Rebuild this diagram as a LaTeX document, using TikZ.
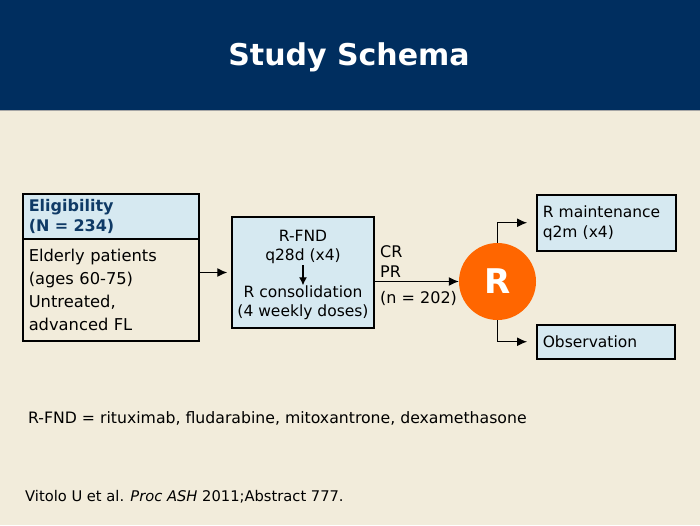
\documentclass[tikz,border=0pt]{standalone}
\usepackage{fontspec}
\setmainfont{DejaVu Sans}
\usetikzlibrary{positioning,arrows.meta}

\definecolor{headerblue}{HTML}{002E5F}
\definecolor{paper}{HTML}{F2ECDB}
\definecolor{paleblue}{HTML}{D6E9F1}
\definecolor{darkblue}{HTML}{0F3A66}
\definecolor{randorange}{HTML}{FF6600}

\begin{document}
\begin{tikzpicture}[x=1pt,y=-1pt,
  box/.style={draw=black, line width=1.5pt, fill=paleblue, inner sep=0pt},
  txt/.style={font=\fontsize{15.5}{19}\selectfont, inner sep=0pt},
  flow/.style={-{Latex[length=10pt,width=9pt]}, line width=1.3pt}]

% Background and header band
\useasboundingbox (0,0) rectangle (700,525);
\fill[paper] (0,0) rectangle (700,525);
\fill[headerblue] (0,0) rectangle (700,110);
\draw[gray!70, line width=1pt] (0,110.5) -- (700,110.5);
\node[text=white, font=\fontsize{30}{36}\bfseries\selectfont] (title) at (349,57) {Study Schema};

% Eligibility box
\node[box, anchor=north west, minimum width=176pt, minimum height=45pt,
      text width=164pt, align=left, text=darkblue,
      font=\fontsize{16}{20}\bfseries\selectfont] (elighead) at (22,193)
      {Eligibility\\(N = 234)};
\node[box, fill=none, anchor=north west, minimum width=176pt, minimum height=102pt,
      text width=164pt, align=left,
      font=\fontsize{16.3}{23}\selectfont] (eligbody) at (22,238)
      {Elderly patients\\(ages 60-75)\\Untreated,\\advanced FL};

% Induction and consolidation box
\node[box, minimum width=142pt, minimum height=111pt] (regimen) at (303,272.5) {};
\node[txt, align=center] (fnd) at (303,246.5) {R-FND\\q28d (x4)};
\node[txt, align=center] (consol) at (303,302.5) {R consolidation\\(4 weekly doses)};
\draw[-{Latex[length=8pt,width=8pt]}, line width=1.2pt] (fnd.south) ++(0,2) coordinate (fndfoot)
      (fndfoot) -- (consol.north);

% Randomisation
\node[circle, fill=randorange, minimum size=77pt, inner sep=0pt, text=white,
      font=\fontsize{34}{40}\bfseries\selectfont] (rand) at (497.5,281.5) {R};

% Arms
\node[box, anchor=north west, minimum width=139pt, minimum height=56pt,
      text width=127pt, align=left, inner xsep=6pt,
      font=\fontsize{15.5}{20}\selectfont] (maint) at (536,194)
      {R maintenance\\q2m (x4)};
\node[box, anchor=north west, minimum width=138pt, minimum height=34pt,
      text width=126pt, align=left, inner xsep=6pt,
      font=\fontsize{15.5}{20}\selectfont] (obs) at (536,324)
      {Observation};

% Response labels
\node[txt, anchor=west, font=\fontsize{16}{19}\selectfont] (cr) at (380,252) {CR};
\node[txt, anchor=west, font=\fontsize{16}{19}\selectfont] (pr) at (380,272) {PR};
\node[txt, anchor=west, font=\fontsize{16}{19}\selectfont] (nresp) at (380,298) {(n = 202)};

% Connectors
\draw[flow, shorten >=4pt] (eligbody.east |- regimen.west) -- (regimen.west);
\draw[flow] (regimen.east |- rand.west) -- (rand.west);
\draw[flow, line width=1pt, shorten >=9pt] (rand.north) |- (maint.west);
\draw[flow, line width=1pt, shorten >=9pt] (rand.south) |- (obs.west);

% Footnotes
\node[txt, anchor=west, font=\fontsize{15.7}{19}\selectfont] (abbrev) at (28,418)
      {R-FND = rituximab, fludarabine, mitoxantrone, dexamethasone};
\node[txt, anchor=west, font=\fontsize{14.7}{17}\selectfont] (cite) at (25,497)
      {Vitolo U et al. \textit{Proc ASH} 2011;Abstract 777.};

\end{tikzpicture}
\end{document}
